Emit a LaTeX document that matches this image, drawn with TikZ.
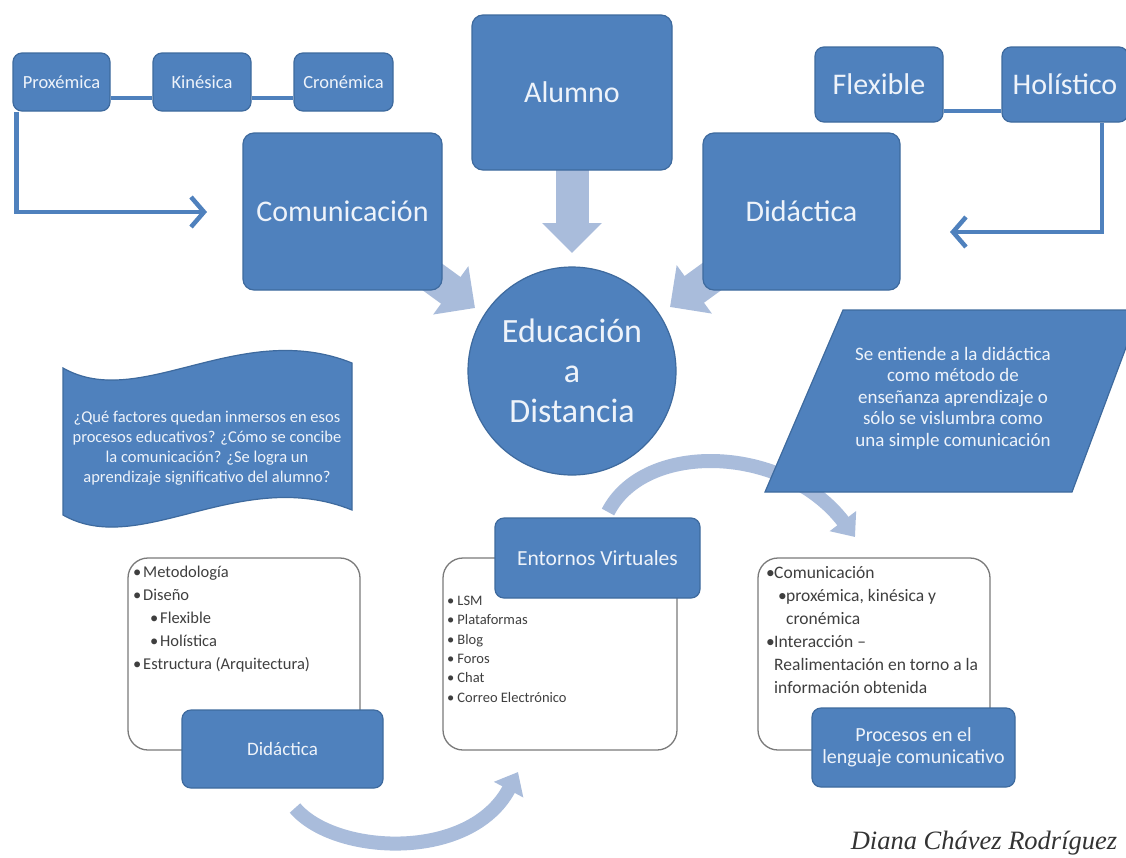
\documentclass[tikz,border=0pt]{standalone}
\usepackage{fontspec}
\setmainfont{Carlito}
\newfontfamily\sigfont{Liberation Serif}
\usetikzlibrary{arrows.meta,calc}
\definecolor{boxblue}{HTML}{4F81BD}
\definecolor{boxedge}{HTML}{3E6A9E}
\definecolor{paleblue}{HTML}{A9BCDB}
\definecolor{boxtext}{HTML}{EEF3FA}
\definecolor{listtext}{HTML}{3F3F3F}
\definecolor{listedge}{HTML}{7A7A7A}
\newcommand{\bl}[1][10pt]{\makebox[#1][l]{\textbullet}}
\begin{document}
\begin{tikzpicture}[x=1pt,y=-1pt,
  bluebox/.style={draw=boxedge, line width=1.2pt, fill=boxblue, rounded corners=9pt, text=boxtext, align=center, inner sep=2pt},
  whitebox/.style={draw=listedge, line width=1.3pt, fill=white, rounded corners=20pt},
  thinlink/.style={draw=boxblue, line width=4.5pt},
  blockarrow/.style={draw=paleblue, line width=33pt, -{Triangle[length=30pt,width=58pt]}},
  curvearrow/.style={draw=paleblue, line width=14pt, -{Triangle[length=20pt,width=32pt]}},
  listtxt/.style={text=listtext, align=left, anchor=north west, inner sep=0pt}]

\useasboundingbox (0,0) rectangle (1126,857);
\fill[white] (0,0) rectangle (1126,857);

% free-end coordinates
\coordinate (proxtip) at (207,212);
\coordinate (holtip) at (950,232);
\coordinate (comtip) at (475,308);
\coordinate (didtip) at (670,307);
\coordinate (botstart) at (295,808);
\coordinate (botend) at (518,772);
\coordinate (topstart) at (608,512);
\coordinate (topend) at (855,537);
\coordinate (comc) at (342.5,211.5);
\coordinate (didc) at (801.5,211.5);
\coordinate (alumc) at (572,92.5);
\coordinate (alumtip) at (572,253);

% block arrows (behind boxes)
\draw[blockarrow] (comc) -- (comtip);
\draw[blockarrow] (didc) -- (didtip);
\draw[blockarrow] (alumc) -- (alumtip);

% curved arrows
\draw[curvearrow] (botstart) .. controls (335,855) and (470,862) .. (botend);
\draw[curvearrow] (topstart) .. controls (645,440) and (785,445) .. (topend);

% top-left small boxes
\node[bluebox, minimum width=97pt, minimum height=58pt, font=\fontsize{18.5}{20}\selectfont] (prox) at (61.5,82) {Proxémica};
\node[bluebox, minimum width=98pt, minimum height=58pt, font=\fontsize{18.5}{20}\selectfont] (kin) at (202,82) {Kinésica};
\node[bluebox, minimum width=99pt, minimum height=58pt, font=\fontsize{18.5}{20}\selectfont] (cron) at (343.5,82) {Cronémica};
\draw[thinlink] ([yshift=-16pt]prox.east) -- ([yshift=-16pt]kin.west);
\draw[thinlink] ([yshift=-16pt]kin.east) -- ([yshift=-16pt]cron.west);
\draw[thinlink, -{Straight Barb[length=13pt,width=30pt]}] ([xshift=4pt]prox.south west) |- (proxtip);

% big boxes
\node[bluebox, rounded corners=11pt, minimum width=199pt, minimum height=157pt, font=\fontsize{30}{34}\selectfont] (com) at (comc) {Comunicación};
\node[bluebox, rounded corners=11pt, minimum width=200pt, minimum height=155pt, font=\fontsize{30}{34}\selectfont] (alum) at (alumc) {Alumno};
\node[bluebox, rounded corners=11pt, minimum width=197pt, minimum height=157pt, font=\fontsize{30}{34}\selectfont] (did) at (didc) {Didáctica};

% top-right boxes
\node[bluebox, minimum width=128pt, minimum height=75pt, font=\fontsize{30}{34}\selectfont] (flex) at (879,84.5) {Flexible};
\node[bluebox, minimum width=126pt, minimum height=75pt, font=\fontsize{30}{34}\selectfont] (hol) at (1065,84.5) {Holístico};
\draw[thinlink] ([yshift=-26.5pt]flex.east) -- ([yshift=-26.5pt]hol.west);
\draw[thinlink, -{Straight Barb[length=13pt,width=30pt]}] ([xshift=37pt]hol.south) |- (holtip);

% central circle
\node[circle, draw=boxedge, line width=1.2pt, fill=boxblue, text=boxtext, align=center, minimum size=208pt, inner sep=0pt, font=\fontsize{34}{40}\selectfont] (circ) at (572,371) {Educación\\a\\Distancia};

% wave shape
\filldraw[fill=boxblue, draw=boxedge, line width=1.2pt] (63,368) .. controls (140,412) and (240,318) .. (352,363) -- (352,510) .. controls (240,465) and (140,559) .. (63,515) -- cycle;
\node[text=boxtext, align=center, font=\fontsize{16.5}{20}\selectfont] (wavetxt) at (207,448) {¿Qué factores quedan inmersos en esos\\procesos educativos? ¿Cómo se concibe\\la comunicación? ¿Se logra un\\aprendizaje significativo del alumno?};

% parallelogram
\filldraw[fill=boxblue, draw=boxedge, line width=1.2pt] (843,310) -- (1140,310) -- (1072,492) -- (765,492) -- cycle;
\node[text=boxtext, align=center, font=\fontsize{19}{21.5}\selectfont] (paratxt) at (953,398) {Se entiende a la didáctica\\como método de\\enseñanza aprendizaje o\\sólo se vislumbra como\\una simple comunicación};

% bottom-left list
\node[whitebox, minimum width=232pt, minimum height=192pt] (list1) at (244,654) {};
\node[listtxt, font=\fontsize{16.5}{23}\selectfont] (list1txt) at (133,566) {\bl Metodología\\\bl Diseño\\\hspace*{17pt}\bl Flexible\\\hspace*{17pt}\bl Holística\\\bl Estructura (Arquitectura)};
\node[bluebox, minimum width=201pt, minimum height=78pt, font=\fontsize{19}{22}\selectfont] (did2) at (282.5,749) {Didáctica};

% middle list
\node[whitebox, minimum width=234pt, minimum height=192pt] (list2) at (560,654) {};
\node[listtxt, font=\fontsize{14.5}{19.3}\selectfont] (list2txt) at (447,596) {\bl[7pt] LSM\\\bl[7pt] Plataformas\\\bl[7pt] Blog\\\bl[7pt] Foros\\\bl[7pt] Chat\\\bl[7pt] Correo Electrónico};
\node[bluebox, minimum width=205pt, minimum height=80pt, font=\fontsize{21.5}{24}\selectfont] (ent) at (597.5,558) {Entornos Virtuales};

% right list
\node[whitebox, minimum width=232pt, minimum height=192pt] (list3) at (874,654) {};
\node[listtxt, font=\fontsize{17.5}{23}\selectfont] (list3txt) at (766,566) {\bl[8pt]Comunicación\\\hspace*{12pt}\bl[8pt]proxémica, kinésica y\\\hspace*{20pt}cronémica\\\bl[8pt]Interacción –\\\hspace*{8pt}Realimentación en torno a la\\\hspace*{8pt}información obtenida};
\node[bluebox, minimum width=203pt, minimum height=79pt, font=\fontsize{20}{22}\selectfont] (proc) at (913.5,747.5) {Procesos en el\\lenguaje comunicativo};

% signature
\node[text=black!80, font=\sigfont\itshape\fontsize{26.5}{30}\selectfont] (sig) at (984,843) {Diana Chávez Rodríguez};
\end{tikzpicture}
\end{document}
